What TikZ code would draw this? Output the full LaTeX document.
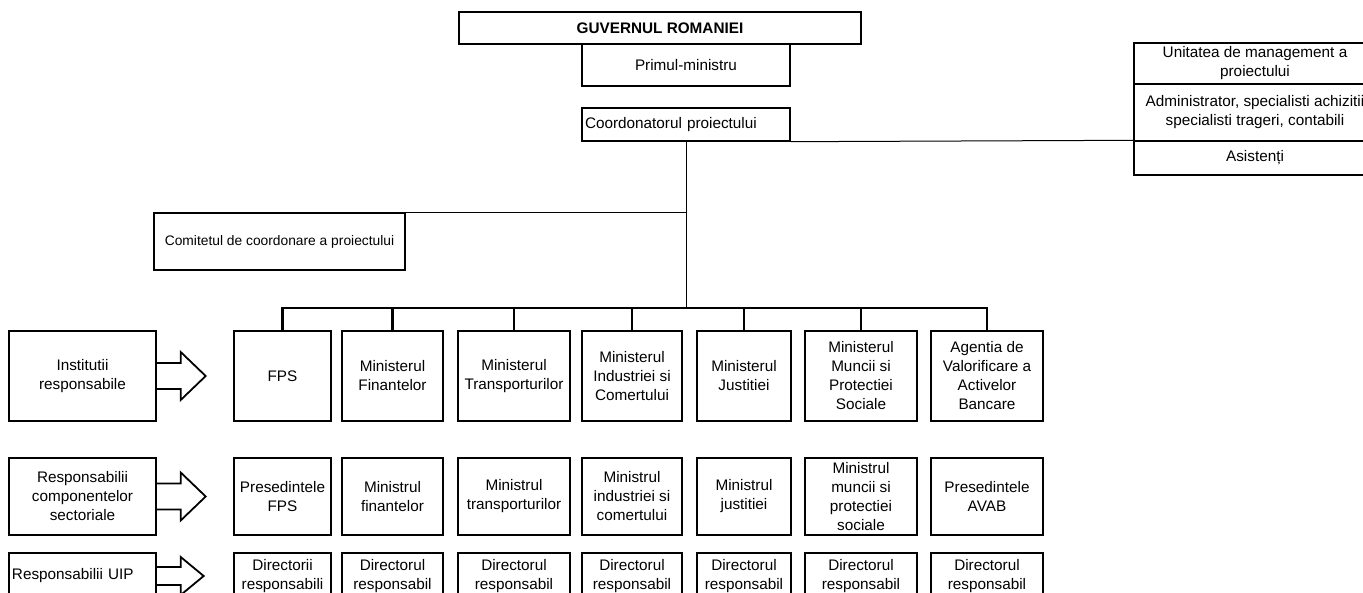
\documentclass[tikz,border=0pt]{standalone}
\usepackage{fontspec}
\setmainfont{Liberation Sans}
\usepackage{tikz}

\begin{document}
\begin{tikzpicture}[x=1pt, y=-1pt, font=\fontsize{15.3}{19}\selectfont,
  box/.style={draw, line width=1.4pt, align=center, inner sep=2pt},
  inst/.style={box, minimum height=90pt},
  resp/.style={box, minimum height=77pt},
  dir/.style={box, minimum height=46pt},
  bus/.style={line width=2.6pt},
  link/.style={line width=1pt},
  fatarrow/.style={line width=1.8pt, line join=miter}]
\path[fill=white, use as bounding box] (0,0) rectangle (1363,593);
% conducere
\node[box, minimum width=402pt, minimum height=32pt, font=\fontsize{15.3}{19}\selectfont\bfseries] (guv) at (660,28) {GUVERNUL ROMANIEI};
\node[box, minimum width=208pt, minimum height=42pt] (prim) at (686,65) {Primul-ministru};
\node[box, minimum width=208pt, minimum height=33pt, text width=202pt, align=left] (coord) at (686,124.5) {Coordonatorul proiectului};
\node[box, minimum width=242pt, minimum height=41pt] (umpTop) at (1255,63.5) {Unitatea de management a\\proiectului};
\node[box, minimum width=242pt, minimum height=57pt] (umpMid) at (1255,112.5) {Administrator, specialisti achizitii\\specialisti trageri, contabili};
\node[box, minimum width=242pt, minimum height=34pt] (umpBot) at (1255,158) {Asistenți};
\node[box, minimum width=251pt, minimum height=57pt, font=\fontsize{13.8}{17}\selectfont] (comit) at (279.5,241.5) {Comitetul de coordonare a proiectului};
% legenda din stanga
\node[inst, minimum width=147pt] (inst) at (82.5,376) {Institutii\\responsabile};
\node[resp, minimum width=147pt] (resp) at (82.5,496.5) {Responsabilii\\componentelor\\sectoriale};
\node[dir, minimum width=147pt, text width=141pt, align=left] (uip) at (82.5,576) {Responsabilii UIP};
% institutii
\node[inst, minimum width=97pt] (iFps) at (282.5,376) {FPS};
\node[inst, minimum width=101pt] (iFin) at (392.5,376) {Ministerul\\Finantelor};
\node[inst, minimum width=112pt] (iTransp) at (514,376) {Ministerul\\Transporturilor};
\node[inst, minimum width=100pt] (iInd) at (632,376) {Ministerul\\Industriei si\\Comertului};
\node[inst, minimum width=94pt] (iJust) at (744,376) {Ministerul\\Justitiei};
\node[inst, minimum width=112pt] (iMunc) at (861,376) {Ministerul\\Muncii si\\Protectiei\\Sociale};
\node[inst, minimum width=112pt] (iAvab) at (987,376) {Agentia de\\Valorificare a\\Activelor\\Bancare};
% responsabili
\node[resp, minimum width=97pt] (rFps) at (282.5,496.5) {Presedintele\\FPS};
\node[resp, minimum width=101pt] (rFin) at (392.5,496.5) {Ministrul\\finantelor};
\node[resp, minimum width=112pt] (rTransp) at (514,496.5) {Ministrul\\transporturilor};
\node[resp, minimum width=100pt] (rInd) at (632,496.5) {Ministrul\\industriei si\\comertului};
\node[resp, minimum width=94pt] (rJust) at (744,496.5) {Ministrul\\justitiei};
\node[resp, minimum width=112pt] (rMunc) at (861,496.5) {Ministrul\\muncii si\\protectiei\\sociale};
\node[resp, minimum width=112pt] (rAvab) at (987,496.5) {Presedintele\\AVAB};
% directori
\node[dir, minimum width=97pt] (dFps) at (282.5,576) {Directorii\\responsabili};
\node[dir, minimum width=101pt] (dFin) at (392.5,576) {Directorul\\responsabil};
\node[dir, minimum width=112pt] (dTransp) at (514,576) {Directorul\\responsabil};
\node[dir, minimum width=100pt] (dInd) at (632,576) {Directorul\\responsabil};
\node[dir, minimum width=94pt] (dJust) at (744,576) {Directorul\\responsabil};
\node[dir, minimum width=112pt] (dMunc) at (861,576) {Directorul\\responsabil};
\node[dir, minimum width=112pt] (dAvab) at (987,576) {Directorul\\responsabil};
% legaturi
\coordinate (busY) at (0,308);
\draw[link] (coord.south east) -- (umpBot.north west);
\draw[link] (coord.south) -- (coord.south |- busY);
\draw[link] (comit.north east) -- (comit.north east -| coord.south);
\draw[bus] (iFps.north) |- (iAvab.north |- busY) -- (iAvab.north);
\draw[bus] (iFin.north) -- (iFin.north |- busY) (iTransp.north) -- (iTransp.north |- busY)
  (iInd.north) -- (iInd.north |- busY) (iJust.north) -- (iJust.north |- busY)
  (iMunc.north) -- (iMunc.north |- busY);
% sagetile
\draw[fatarrow] (inst.east) ++(0,-13) -- ++(24,0) -- ++(0,-11) -- ++(25,24) -- ++(-25,24) -- ++(0,-11) -- ++(-24,0);
\draw[fatarrow] (resp.east) ++(0,-13) -- ++(24,0) -- ++(0,-11) -- ++(25,24) -- ++(-25,24) -- ++(0,-11) -- ++(-24,0);
\draw[fatarrow] (uip.east) ++(0,-9) -- ++(24,0) -- ++(0,-10) -- ++(23,19) -- ++(-23,19) -- ++(0,-10) -- ++(-24,0);
\end{tikzpicture}
\end{document}
